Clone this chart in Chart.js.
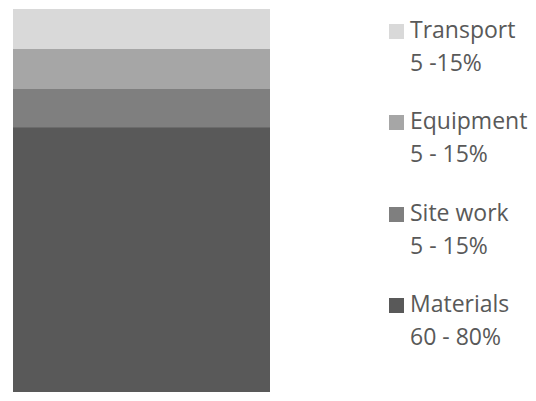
<!DOCTYPE html>
<html>
<head>
<meta charset="utf-8">
<script src="https://cdn.jsdelivr.net/npm/chart.js@4"></script>
<style>
  body { margin: 0; background: #fff; width: 536px; height: 401px; overflow: hidden; position: relative; }
  #barBox { position: absolute; left: 13px; top: 9px; width: 257px; height: 383px; }
  #legend { position: absolute; left: 0; top: 0; }
  .item { position: absolute; left: 389px; font-family: "Open Sans", sans-serif; font-size: 23px; line-height: 33px; color: #595959; padding-left: 21px; white-space: nowrap; }
  .color-box { position: absolute; left: 0; top: 11px; width: 15px; height: 15px; }
</style>
</head>
<body>
<div id="barBox"><canvas id="chart"></canvas></div>
<div id="legend"></div>
<script>
// --- DATI ---
const categories = ["Costo"];
const seriesNames = ["Materials", "Site work", "Equipment", "Transport"];
const seriesValues = [69, 10, 10.5, 10.5];
const ranges = ["60 - 80%", "5 - 15%", "5 - 15%", "5 -15%"];
const colors = ["#595959", "#7f7f7f", "#a6a6a6", "#d9d9d9"];

// --- BARRA IMPILATA ---
new Chart(document.getElementById("chart"), {
  type: "bar",
  data: {
    labels: categories,
    datasets: seriesNames.map((name, i) => ({
      label: name,
      data: [seriesValues[i]],
      backgroundColor: colors[i],
      borderWidth: 0,
      barPercentage: 1,
      categoryPercentage: 1
    }))
  },
  options: {
    responsive: true,
    maintainAspectRatio: false,
    animation: false,
    layout: { padding: 0 },
    plugins: { legend: { display: false }, tooltip: { enabled: false } },
    scales: {
      x: { stacked: true, display: false },
      y: { stacked: true, display: false, min: 0, max: 100 }
    }
  }
});

// --- LEGENDA (dall'alto: Transport ... Materials) ---
const legendBox = document.getElementById("legend");
const tops = [13, 104, 196, 287];
for (let k = 0; k < seriesNames.length; k++) {
  const i = seriesNames.length - 1 - k;
  const item = document.createElement("div");
  item.className = "item";
  item.style.top = tops[k] + "px";
  item.innerHTML = `<div class="color-box" style="background:${colors[i]}"></div>${seriesNames[i]}<br>${ranges[i]}`;
  legendBox.appendChild(item);
}
</script>
</body>
</html>
